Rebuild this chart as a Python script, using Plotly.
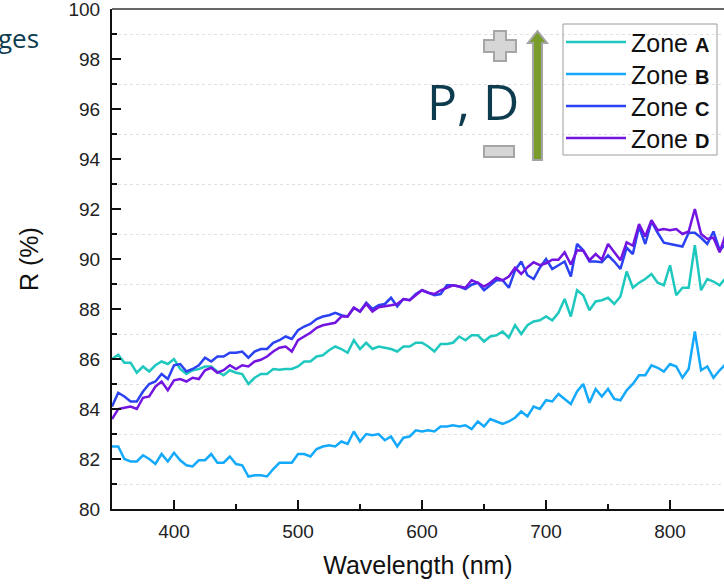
import plotly.graph_objects as go

wavelength = [350, 355, 360, 365, 370, 375, 380, 385, 390, 395,
              400, 405, 410, 415, 420, 425, 430, 435, 440, 445,
              450, 455, 460, 465, 470, 475, 480, 485, 490, 495,
              500, 505, 510, 515, 520, 525, 530, 535, 540, 545,
              550, 555, 560, 565, 570, 575, 580, 585, 590, 595,
              600, 605, 610, 615, 620, 625, 630, 635, 640, 645,
              650, 655, 660, 665, 670, 675, 680, 685, 690, 695,
              700, 705, 710, 715, 720, 725, 730, 735, 740, 745,
              750, 755, 760, 765, 770, 775, 780, 785, 790, 795,
              800, 805, 810, 815, 820, 825, 830, 835, 840, 845]

zone_a = [86.0, 86.17, 85.85, 85.85, 85.45, 85.7, 85.5, 85.75, 85.9, 85.8,
          86.0, 85.6, 85.4, 85.55, 85.6, 85.7, 85.7, 85.5, 85.35, 85.55,
          85.45, 85.4, 85.0, 85.25, 85.4, 85.4, 85.6, 85.57, 85.6, 85.6,
          85.7, 85.9, 85.9, 86.1, 86.15, 86.35, 86.5, 86.4, 86.25, 86.75,
          86.4, 86.65, 86.4, 86.5, 86.45, 86.4, 86.3, 86.5, 86.5, 86.65,
          86.65, 86.5, 86.3, 86.6, 86.6, 86.65, 86.9, 86.75, 86.95, 86.95,
          86.7, 86.9, 86.95, 87.1, 86.85, 87.35, 87.0, 87.35, 87.5, 87.55,
          87.7, 87.55, 87.85, 88.4, 87.7, 88.75, 88.55, 87.95, 88.3, 88.35,
          88.45, 88.2, 88.5, 89.5, 88.85, 89.05, 89.2, 89.4, 89.05, 88.95,
          89.75, 88.55, 88.85, 88.85, 90.55, 88.75, 89.2, 89.1, 88.95, 89.25]

zone_b = [82.5, 82.5, 82.0, 81.9, 81.9, 82.15, 82.0, 81.8, 82.2, 81.9,
          82.25, 81.95, 81.75, 81.7, 81.95, 81.95, 82.2, 81.85, 81.85, 82.1,
          81.8, 81.75, 81.3, 81.35, 81.35, 81.3, 81.6, 81.85, 81.85, 81.85,
          82.2, 82.2, 82.1, 82.4, 82.5, 82.55, 82.5, 82.7, 82.6, 83.1,
          82.7, 83.0, 82.95, 83.0, 82.75, 82.9, 82.5, 82.85, 82.9, 83.15,
          83.1, 83.15, 83.1, 83.3, 83.3, 83.35, 83.3, 83.35, 83.2, 83.5,
          83.3, 83.6, 83.5, 83.4, 83.5, 83.65, 83.9, 83.7, 84.1, 84.0,
          84.35, 84.3, 84.6, 84.4, 84.2, 84.7, 85.0, 84.25, 84.8, 84.5,
          84.8, 84.4, 84.35, 84.75, 85.0, 85.35, 85.35, 85.75, 85.65, 85.5,
          85.8, 85.7, 85.25, 85.6, 87.1, 85.55, 85.7, 85.25, 85.55, 85.8]

zone_c = [84.1, 84.65, 84.5, 84.3, 84.3, 84.7, 85.0, 85.1, 85.4, 85.2,
          85.75, 85.8, 85.5, 85.6, 85.75, 86.05, 85.9, 86.1, 86.1, 86.25,
          86.25, 86.3, 86.05, 86.3, 86.4, 86.4, 86.65, 86.75, 86.9, 86.8,
          87.15, 87.3, 87.4, 87.6, 87.7, 87.75, 87.85, 87.75, 87.7, 88.05,
          87.9, 88.25, 88.0, 88.15, 88.2, 88.45, 88.1, 88.4, 88.35, 88.6,
          88.75, 88.65, 88.55, 88.6, 88.95, 88.95, 88.9, 88.8, 88.97, 89.05,
          88.75, 88.95, 89.15, 89.15, 88.85, 89.55, 89.9, 89.35, 89.2, 89.65,
          90.0, 89.6, 89.75, 89.9, 89.3, 90.6, 90.35, 89.9, 89.9, 89.87,
          90.15, 89.9, 89.6, 90.45, 90.2, 91.3, 90.6, 91.5, 91.05, 90.65,
          90.6, 90.55, 90.5, 91.05, 91.05, 90.85, 90.6, 91.1, 90.35, 90.6]

zone_d = [83.6, 84.0, 84.05, 84.1, 84.0, 84.45, 84.5, 84.9, 85.1, 84.75,
          85.15, 85.2, 85.1, 85.25, 85.2, 85.55, 85.65, 85.45, 85.55, 85.75,
          85.6, 85.75, 85.7, 85.9, 85.97, 86.1, 86.3, 86.45, 86.5, 86.3,
          86.75, 86.9, 87.05, 87.25, 87.35, 87.4, 87.45, 87.7, 87.7, 88.05,
          87.9, 88.2, 87.9, 88.07, 88.1, 88.15, 88.2, 88.4, 88.35, 88.55,
          88.75, 88.65, 88.6, 88.75, 88.85, 88.95, 88.9, 88.85, 89.15, 89.05,
          88.9, 89.05, 89.25, 89.15, 89.3, 89.65, 89.4, 89.67, 89.87, 89.75,
          89.83, 89.97, 89.97, 90.27, 89.78, 90.35, 90.33, 89.95, 90.2, 89.97,
          90.6, 90.27, 89.95, 90.67, 90.53, 91.4, 90.9, 91.55, 91.15, 91.2,
          91.15, 91.2, 91.0, 91.1, 92.0, 91.0, 90.8, 90.85, 90.27, 91.0]

zone_letters = ["A", "B", "C", "D"]
zone_colors = ["#1fc8bf", "#14a9fb", "#2b42f2", "#7414e0"]
series = [zone_a, zone_b, zone_c, zone_d]

W, H = 724, 585
ML, MR, MT, MB = 112, 0, 9, 76
PW, PH = W - ML - MR, H - MT - MB


def px(x):
    return (x - ML) / PW


def py(y):
    return 1 - (y - MT) / PH


fig = go.Figure()
for letter, color, vals in zip(zone_letters, zone_colors, series):
    fig.add_trace(go.Scatter(x=wavelength, y=vals, mode="lines",
                             name="Zone " + letter, showlegend=False,
                             line=dict(color=color, width=2.5)))

axis_font = dict(family="Liberation Sans, Arial, sans-serif", size=19, color="#222222")
title_font = dict(family="Liberation Sans, Arial, sans-serif", size=25, color="#111111")

fig.update_xaxes(range=[350, 843.5], showline=True, linecolor="#111111", linewidth=2,
                 ticks="inside", ticklen=9, tickwidth=2, tickcolor="#111111",
                 tick0=0, dtick=100, showgrid=False, zeroline=False,
                 tickfont=axis_font, ticklabelstandoff=4,
                 minor=dict(ticks="inside", ticklen=5, tickwidth=2, tickcolor="#111111",
                            dtick=50, tick0=0, showgrid=False),
                 title=dict(text="Wavelength (nm)", font=title_font, standoff=16),
                 automargin=False)
fig.update_yaxes(range=[80, 100], showline=True, linecolor="#111111", linewidth=2,
                 ticks="inside", ticklen=9, tickwidth=2, tickcolor="#111111",
                 tick0=80, dtick=2, showgrid=False, zeroline=False,
                 tickfont=axis_font, ticklabelstandoff=6, ticklabeloverflow="allow",
                 minor=dict(ticks="inside", ticklen=5, tickwidth=2, tickcolor="#111111",
                            dtick=1, tick0=80, showgrid=True, gridcolor="#e0e0e0",
                            griddash="3px,3px", gridwidth=1),
                 title=dict(text="R (%)", font=title_font, standoff=23),
                 automargin=False)

shapes = []
# top frame line
shapes.append(dict(type="line", xref="paper", yref="paper", x0=0, x1=1, y0=1, y1=1,
                   line=dict(color="#333333", width=1.3)))


def path(points):
    s = "M" + " L".join(f"{px(x):.5f},{py(y):.5f}" for x, y in points) + " Z"
    return s


# plus sign
shapes.append(dict(type="path", xref="paper", yref="paper",
                   path=path([(494, 31), (506, 31), (506, 40), (516, 40), (516, 52), (506, 52),
                              (506, 61), (494, 61), (494, 52), (484, 52), (484, 40), (494, 40)]),
                   fillcolor="#d6d6d6", line=dict(color="#a6a6a6", width=2)))
# minus sign
shapes.append(dict(type="path", xref="paper", yref="paper",
                   path=path([(484, 146), (514, 146), (514, 157), (484, 157)]),
                   fillcolor="#d6d6d6", line=dict(color="#a6a6a6", width=2)))
# arrow
shapes.append(dict(type="path", xref="paper", yref="paper",
                   path=path([(533, 160), (533, 43), (528, 43), (537.5, 31), (547, 43),
                              (542, 43), (542, 160)]),
                   fillcolor="#7a9c2c", line=dict(color="#a4a4a4", width=2)))
# legend box
shapes.append(dict(type="rect", xref="paper", yref="paper",
                   x0=px(563), x1=px(717), y0=py(24), y1=py(155),
                   line=dict(color="#9c9c9c", width=1), fillcolor="rgba(255,255,255,0)"))

annotations = []
row_y = [42, 74, 106, 138]
for letter, color, ry in zip(zone_letters, zone_colors, row_y):
    shapes.append(dict(type="line", xref="paper", yref="paper",
                       x0=px(566), x1=px(626), y0=py(ry), y1=py(ry),
                       line=dict(color=color, width=2.5)))
    annotations.append(dict(xref="paper", yref="paper", x=px(629), y=py(ry + 1),
                            xanchor="left", yanchor="middle", showarrow=False,
                            text="Zone <b><span style='font-size:20px'>" + letter + "</span></b>",
                            font=dict(family="Liberation Sans, Arial, sans-serif", size=25,
                                      color="#111111")))

annotations.append(dict(xref="paper", yref="paper", x=px(425), y=py(101),
                        xanchor="left", yanchor="middle", showarrow=False,
                        text="P, D",
                        font=dict(family="Open Sans, sans-serif", size=50, color="#0d3c4e")))
annotations.append(dict(xref="paper", yref="paper", x=px(41), y=py(38),
                        xanchor="right", yanchor="middle", showarrow=False,
                        text="ges",
                        font=dict(family="Open Sans, sans-serif", size=26, color="#0d3c4e")))

fig.update_layout(width=W, height=H, margin=dict(l=ML, r=MR, t=MT, b=MB),
                  plot_bgcolor="white", paper_bgcolor="white",
                  shapes=shapes, annotations=annotations, showlegend=False)

fig.write_html("out.html", config={"displayModeBar": False},
               post_script="document.body.style.margin='0';")
